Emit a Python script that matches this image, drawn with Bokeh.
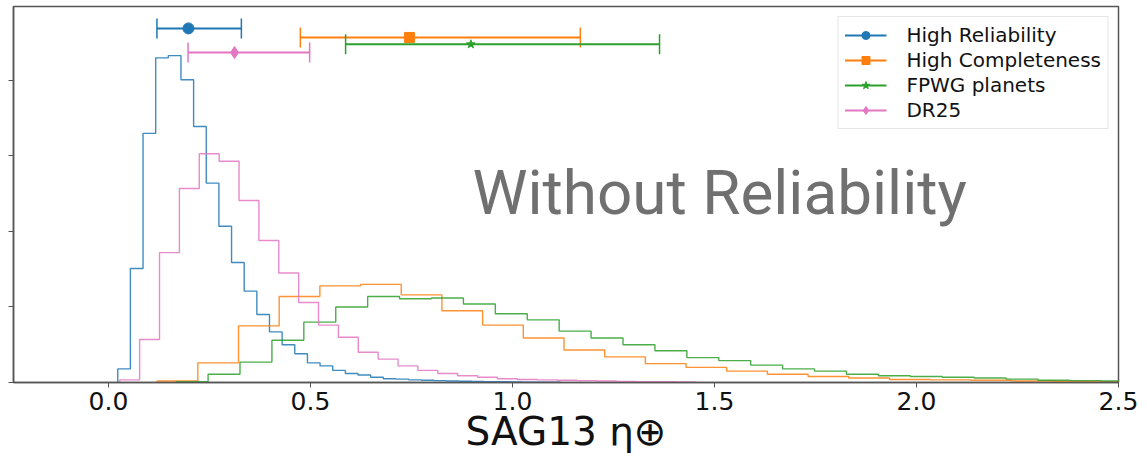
import numpy as np
from bokeh.plotting import figure
from bokeh.models import (Range1d, FixedTicker, PrintfTickFormatter, Label,
                          Legend, LegendItem, ColumnDataSource)
from bokeh.embed import file_html
from bokeh.resources import INLINE

# ---------------- data ----------------
x_ticks = [0.0, 0.5, 1.0, 1.5, 2.0, 2.5]
y_ticks = [0, 1, 2, 3, 4]

# histograms: first bin edge, bin width, bin heights
hr_start, hr_width = 0.023, 0.0313
hr_heights = [0.18, 1.51, 3.30, 4.30, 4.33, 4.01, 3.39, 2.64, 2.07, 1.59, 1.21,
              0.90, 0.67, 0.50, 0.38, 0.26, 0.22, 0.16, 0.12, 0.10, 0.07, 0.05,
              0.045, 0.035, 0.03, 0.025, 0.02, 0.017, 0.014, 0.011, 0.009,
              0.007, 0.005, 0.004, 0.003]

hc_start, hc_width = 0.1205, 0.1007
hc_heights = [0.02, 0.26, 0.75, 1.14, 1.28, 1.30, 1.16, 0.95, 0.76, 0.59, 0.43,
              0.34, 0.25, 0.20, 0.15, 0.11, 0.08, 0.06, 0.04, 0.035, 0.03,
              0.02, 0.015, 0.01]

fp_start, fp_width = 0.1676, 0.079
fp_heights = [0.01, 0.11, 0.27, 0.56, 0.80, 1.00, 1.14, 1.11, 1.12, 1.04, 0.91,
              0.83, 0.68, 0.59, 0.50, 0.42, 0.33, 0.29, 0.23, 0.18, 0.15, 0.11,
              0.09, 0.08, 0.07, 0.06, 0.045, 0.03, 0.025, 0.02]

dr_start, dr_width = 0.028, 0.0492
dr_heights = [0.035, 0.57, 1.72, 2.57, 3.03, 2.93, 2.41, 1.88, 1.45, 1.06, 0.76,
              0.60, 0.40, 0.31, 0.22, 0.16, 0.12, 0.09, 0.07, 0.05, 0.04, 0.035,
              0.03, 0.025, 0.02, 0.015, 0.012, 0.01, 0.008]

# summary error bars
sum_labels = ["High Reliability", "High Completeness", "FPWG planets", "DR25"]
sum_median = [0.198, 0.745, 0.897, 0.312]
sum_low = [0.120, 0.475, 0.587, 0.197]
sum_high = [0.329, 1.168, 1.364, 0.498]
sum_y = [4.69, 4.57, 4.48, 4.37]

colors = ["#1f77b4", "#ff7f0e", "#2ca02c", "#e377c2"]
markers = ["circle", "square", "star", "diamond"]
marker_sizes = [11, 10, 9, 12]

# ---------------- figure ----------------
p = figure(width=1147, height=463, output_backend="svg", toolbar_location=None,
           x_range=Range1d(-0.235, 2.5), y_range=Range1d(0, 4.98),
           min_border_left=13, min_border_right=29, min_border_top=6,
           min_border_bottom=81)
p.background_fill_color = "white"
p.border_fill_color = "white"
p.xgrid.visible = False
p.ygrid.visible = False
p.outline_line_color = "#555555"
p.outline_line_width = 1.5

p.xaxis.ticker = FixedTicker(ticks=x_ticks)
p.xaxis.formatter = PrintfTickFormatter(format="%.1f")
p.xaxis.major_label_text_font = "DejaVu Sans"
p.xaxis.major_label_text_font_size = "25px"
p.xaxis.major_label_text_color = "#111111"
p.xaxis.major_label_standoff = 4
p.xaxis.axis_label = "SAG13 η⊕"
p.xaxis.axis_label_text_font = "DejaVu Sans"
p.xaxis.axis_label_text_font_style = "normal"
p.xaxis.axis_label_text_font_size = "39px"
p.xaxis.axis_label_text_color = "#111111"
p.xaxis.axis_label_standoff = -4

p.yaxis.ticker = FixedTicker(ticks=y_ticks)
p.yaxis.major_label_overrides = {t: "" for t in y_ticks}
p.yaxis.major_label_standoff = 0
for ax in (p.xaxis, p.yaxis):
    ax.axis_line_color = "#555555"
    ax.axis_line_width = 1.5
    ax.major_tick_line_color = "#555555"
    ax.major_tick_line_width = 1
    ax.major_tick_out = 5
    ax.major_tick_in = 0
    ax.minor_tick_line_color = None


def step_outline(start, width, heights):
    edges = start + width * np.arange(len(heights) + 1)
    xs = np.repeat(edges, 2)
    ys = np.concatenate([[0.0], np.repeat(heights, 2), [0.0]])
    return xs, ys


hists = [(hr_start, hr_width, hr_heights), (hc_start, hc_width, hc_heights),
         (fp_start, fp_width, fp_heights), (dr_start, dr_width, dr_heights)]
for (st, w, h), c in zip(hists, colors):
    xs, ys = step_outline(st, w, h)
    p.line(xs, ys, line_color=c, line_width=1.4, line_alpha=0.85)

items = []
for i, lab in enumerate(sum_labels):
    src = ColumnDataSource(dict(lo=[sum_low[i]], hi=[sum_high[i]],
                                med=[sum_median[i]], y=[sum_y[i]]))
    seg = p.segment(x0="lo", x1="hi", y0="y", y1="y", source=src,
                    line_color=colors[i], line_width=2)
    p.scatter(x="lo", y="y", source=src, marker="dash", angle=np.pi / 2,
              size=20, line_color=colors[i], line_width=1.5)
    p.scatter(x="hi", y="y", source=src, marker="dash", angle=np.pi / 2,
              size=20, line_color=colors[i], line_width=1.5)
    mk = p.scatter(x="med", y="y", source=src, marker=markers[i],
                   size=marker_sizes[i], fill_color=colors[i],
                   line_color=colors[i])
    items.append(LegendItem(label=lab, renderers=[seg, mk]))

legend = Legend(items=items, location="top_right", margin=10,
                label_text_font="DejaVu Sans", label_text_font_size="20px",
                label_text_color="#111111", glyph_width=42, glyph_height=20,
                label_height=20, label_standoff=20, spacing=1, padding=6,
                border_line_color="#cccccc", border_line_width=1,
                background_fill_color="white", background_fill_alpha=0.8)
p.add_layout(legend)

# annotation text
p.add_layout(Label(x=459, y=190, x_units="screen", y_units="screen",
                   text="Without Reliability", text_font="Roboto",
                   text_font_size="62px", text_color="#707070",
                   text_baseline="alphabetic"))

open("out.html", "w").write(file_html(p, INLINE))
